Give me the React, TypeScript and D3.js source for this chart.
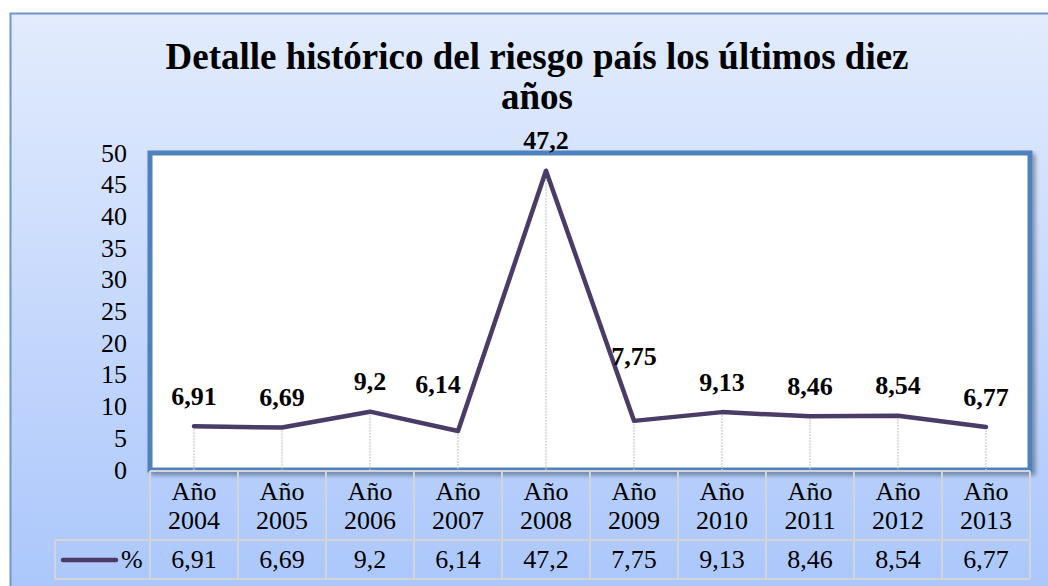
import React from "react";
import * as d3 from "d3";

const years = ["2004", "2005", "2006", "2007", "2008", "2009", "2010", "2011", "2012", "2013"];
const values = [6.91, 6.69, 9.2, 6.14, 47.2, 7.75, 9.13, 8.46, 8.54, 6.77];
const yTicks = [0, 5, 10, 15, 20, 25, 30, 35, 40, 45, 50];
const titleLines = ["Detalle histórico del riesgo país los últimos diez", "años"];
const seriesName = "%";
// label nudges (dx, dy) where Excel moved a label off its default spot
const labelNudge: Record<string, [number, number]> = { "2007": [-20, -17], "2009": [0, -34] };

const fmt = (v: number) => String(v).replace(".", ",");

const W = 1048, H = 586;
const font = '"Liberation Serif"';
const plot = { l: 150, r: 1030, t: 153, b: 470 };
const rowMid = 540, rowBot = 579, legL = 55;
const lineColor = "#4a3c66";

const App = () => {
  const x = d3.scaleBand().domain(years).range([plot.l, plot.r]);
  const y = d3.scaleLinear().domain([0, 50]).range([plot.b, plot.t]);
  const cx = (yr: string) => (x(yr) as number) + x.bandwidth() / 2;
  const line = d3.line<number>().x((d, i) => cx(years[i])).y((d) => y(d));
  const txt = { fontFamily: font };

  return (
    <svg width={W} height={H} style={{ position: "absolute", left: 0, top: 0, fontFamily: font }}>
      <defs>
        <linearGradient id="bg" x1="0" y1="0" x2="0" y2="1">
          <stop offset="0%" stopColor="#e3ecfd" />
          <stop offset="100%" stopColor="#aac6fb" />
        </linearGradient>
        <filter id="sh" x="-5%" y="-5%" width="110%" height="110%">
          <feDropShadow dx={3} dy={3} stdDeviation={2} floodColor="#000" floodOpacity={0.35} />
        </filter>
      </defs>
      <rect width={W} height={H} fill="#fff" />
      <rect x={10.5} y={13.5} width={W + 20} height={H} fill="url(#bg)" stroke="#6f96c8" strokeWidth={2} />

      {/* title */}
      {titleLines.map((t, i) => (
        <text key={i} x={537} y={69 + i * 40} textAnchor="middle" fontWeight="bold" fontSize={37} style={txt}>
          {t}
        </text>
      ))}

      {/* plot area */}
      <rect x={plot.l} y={plot.t} width={plot.r - plot.l} height={plot.b - plot.t}
        fill="#fff" stroke="#4f81bd" strokeWidth={5} filter="url(#sh)" />

      {/* y axis labels */}
      {yTicks.map((t) => (
        <text key={t} x={127} y={y(t)} dy="0.33em" textAnchor="end" fontSize={26} style={txt}>{t}</text>
      ))}

      {/* drop lines */}
      {years.map((yr, i) => (
        <line key={yr} x1={cx(yr)} x2={cx(yr)} y1={y(values[i])} y2={plot.b}
          stroke="#c8c8c8" strokeWidth={1.2} strokeDasharray="2,1" />
      ))}

      <path d={line(values) ?? ""} fill="none" stroke={lineColor} strokeWidth={4.5}
        strokeLinejoin="round" strokeLinecap="round" />

      {/* data labels */}
      {values.map((v, i) => {
        const n = labelNudge[years[i]] ?? [0, 0];
        return (
          <text key={i} x={cx(years[i]) + n[0]} y={y(v) - 30 + n[1]} dy="0.33em" textAnchor="middle"
            fontWeight="bold" fontSize={26} style={txt}>{fmt(v)}</text>
        );
      })}

      {/* data table */}
      <g stroke="#d4d4d4" strokeWidth={2} fill="none">
        <line x1={plot.l} x2={plot.r} y1={plot.b + 1} y2={plot.b + 1} />
        <line x1={legL} x2={plot.r} y1={rowMid} y2={rowMid} />
        <line x1={legL} x2={plot.r} y1={rowBot} y2={rowBot} />
        <line x1={legL} x2={legL} y1={rowMid} y2={rowBot} />
        {[...years.map((d) => x(d) as number), plot.r].map((xv, i) => (
          <line key={i} x1={xv} x2={xv} y1={plot.b + 1} y2={rowBot} />
        ))}
      </g>
      {years.map((yr, i) => (
        <g key={yr}>
          <text x={cx(yr)} y={500} fontSize={26} textAnchor="middle" style={txt}>Año</text>
          <text x={cx(yr)} y={529} fontSize={26} textAnchor="middle" style={txt}>{yr}</text>
          <text x={cx(yr)} y={568} fontSize={26} textAnchor="middle" style={txt}>{fmt(values[i])}</text>
        </g>
      ))}

      {/* legend key */}
      <line x1={63} x2={116} y1={560} y2={560} stroke={lineColor} strokeWidth={4.5} strokeLinecap="round" />
      <text x={121} y={568} fontSize={26} style={txt}>{seriesName}</text>
    </svg>
  );
};

export default App;
